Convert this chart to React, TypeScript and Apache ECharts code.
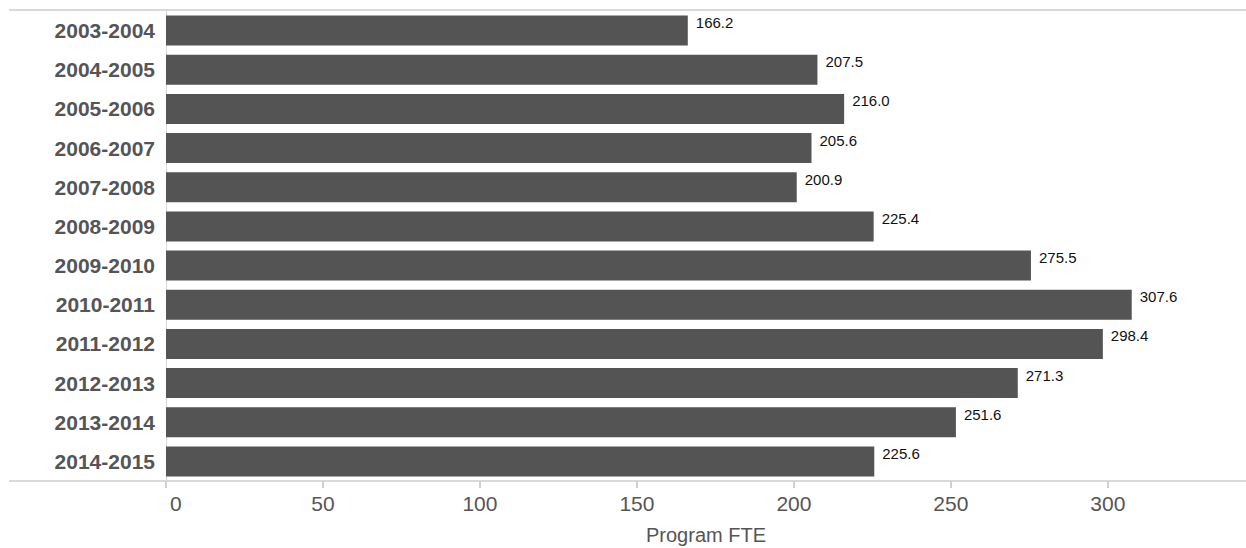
import React, { useEffect, useRef } from "react";
import * as echarts from "echarts";

const categories = [
  "2003-2004", "2004-2005", "2005-2006", "2006-2007", "2007-2008", "2008-2009",
  "2009-2010", "2010-2011", "2011-2012", "2012-2013", "2013-2014", "2014-2015",
];
const values = [166.2, 207.5, 216.0, 205.6, 200.9, 225.4, 275.5, 307.6, 298.4, 271.3, 251.6, 225.6];
const xTicks = [0, 50, 100, 150, 200, 250, 300];

const FONT = "'Liberation Sans', Arial, Helvetica, sans-serif";

export default function App() {
  const ref = useRef<HTMLDivElement>(null);
  useEffect(() => {
    if (!ref.current) return;
    const chart = echarts.init(ref.current, null, { renderer: "svg" });
    chart.setOption({
      animation: false,
      textStyle: { fontFamily: FONT },
      grid: { left: 166, right: 0, top: 11, bottom: 67, containLabel: false, outerBoundsMode: "none" },
      xAxis: {
        type: "value",
        min: 0,
        max: 344,
        interval: 50,
        name: "Program FTE",
        nameLocation: "middle",
        nameGap: 44,
        nameTextStyle: { color: "#555", fontSize: 20, fontFamily: FONT },
        axisLine: { show: true, lineStyle: { color: "#d9d9d9", width: 2 } },
        axisTick: { show: true, length: 7, lineStyle: { color: "#d0d0d0", width: 2 } },
        axisLabel: {
          color: "#555",
          fontSize: 21,
          fontFamily: FONT,
          margin: 12,
          showMaxLabel: false,
          alignMinLabel: "left",
          formatter: (v: number) => (v === 0 ? "{z|0}" : xTicks.includes(v) ? String(v) : ""),
          rich: { z: { padding: [0, 0, 0, 4], fontSize: 21, color: "#555", fontFamily: FONT } },
        },
        splitLine: { show: false },
      },
      yAxis: {
        type: "category",
        data: categories,
        inverse: true,
        axisLine: { show: true, lineStyle: { color: "#d9d9d9", width: 1 } },
        axisTick: { show: false },
        axisLabel: { color: "#555", fontSize: 21, fontWeight: "bold", fontFamily: FONT, margin: 11 },
      },
      graphic: [
        { type: "line", shape: { x1: 9, y1: 10, x2: 1246, y2: 10 }, style: { stroke: "#d9d9d9", lineWidth: 2 }, silent: true },
        { type: "line", shape: { x1: 9, y1: 481, x2: 1246, y2: 481 }, style: { stroke: "#d9d9d9", lineWidth: 2 }, silent: true },
      ],
      series: [
        {
          type: "bar",
          data: values,
          barCategoryGap: "23.4%",
          itemStyle: { color: "#545454" },
          label: {
            show: true,
            position: "right",
            distance: 8,
            offset: [0, -8],
            color: "#111",
            fontSize: 15,
            fontFamily: FONT,
            formatter: (p: any) => Number(p.value).toFixed(1),
          },
        },
      ],
    });
    return () => chart.dispose();
  }, []);
  return <div ref={ref} style={{ width: 1246, height: 548, position: "absolute", left: 0, top: 0 }} />;
}
